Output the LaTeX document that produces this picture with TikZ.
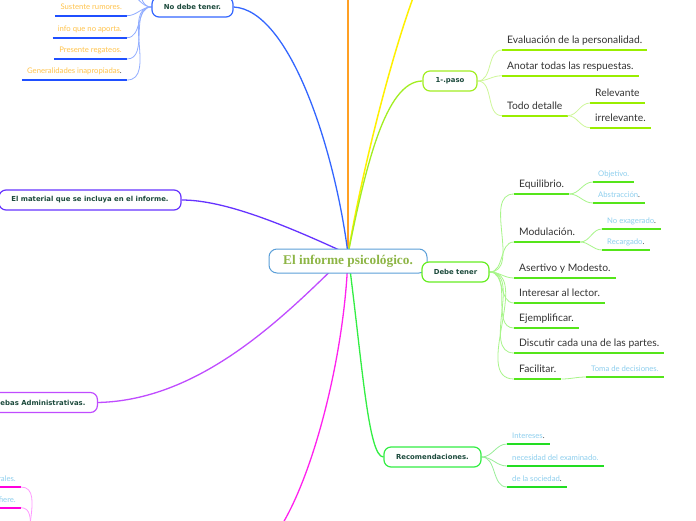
\documentclass[tikz,border=0pt]{standalone}
\usepackage{fontspec}
\setmainfont{Lato}
\newfontfamily\brfont{DejaVu Sans}
\newfontfamily\cnfont{Liberation Serif}
\usetikzlibrary{backgrounds}
\definecolor{cborder}{HTML}{5B9FD8}
\definecolor{ctext}{HTML}{8DB545}
\definecolor{brtext}{HTML}{1C4A3C}
\definecolor{leafdark}{HTML}{333333}
\definecolor{leaflight}{HTML}{8ECFEE}
\definecolor{leafyellow}{HTML}{FFC44D}
\definecolor{bluec}{HTML}{3366FF}
\definecolor{bluelc}{HTML}{92AEFF}
\definecolor{blueul}{HTML}{1F4FFF}
\definecolor{orangec}{HTML}{FFA024}
\definecolor{yellowc}{HTML}{FFF000}
\definecolor{chartc}{HTML}{A2EE22}
\definecolor{chartlc}{HTML}{CFF79A}
\definecolor{chartul}{HTML}{99EE00}
\definecolor{greenA}{HTML}{66EE22}
\definecolor{greenAlc}{HTML}{A8F58A}
\definecolor{greenAul}{HTML}{55E51A}
\definecolor{greenB}{HTML}{33EE44}
\definecolor{greenBlc}{HTML}{99EE99}
\definecolor{greenBul}{HTML}{22DD22}
\definecolor{purpleA}{HTML}{6633FF}
\definecolor{violetc}{HTML}{C04CFF}
\definecolor{magentac}{HTML}{FF22EE}
\definecolor{magentalc}{HTML}{FF99FF}
\definecolor{magentaul}{HTML}{FF00DD}
\newcommand{\dk}[1]{\textcolor{leafdark}{#1}}
\tikzset{
  every node/.style={inner sep=0pt},
  brnode/.style={draw=#1, line width=1.2pt, fill=white, rounded corners=7pt,
    minimum height=20pt, font=\brfont\bfseries\fontsize{6.9}{8}\selectfont, text=brtext},
  dleaf/.style={anchor=south west, inner xsep=5pt, inner ysep=0pt, text depth=6pt,
    font=\fontsize{10.3}{12}\selectfont, text=leafdark},
  lleaf/.style={anchor=south west, inner xsep=5pt, inner ysep=0pt, text depth=5pt,
    font=\fontsize{7.7}{9}\selectfont, text=leaflight},
  yleaf/.style={anchor=south east, inner xsep=5pt, inner ysep=0pt, text depth=6pt,
    font=\fontsize{7.7}{9}\selectfont, text=leafyellow},
  uline/.style={draw=#1, line width=1.6pt},
  leafconn/.style={draw=#1, line width=0.8pt},
  mainline/.style={draw=#1, line width=1.3pt},
}
\begin{document}
\begin{tikzpicture}[x=1pt, y=-1pt]
\useasboundingbox (0,0) rectangle (696,520);
% centre
\node[draw=cborder, line width=1pt, fill=white, rounded corners=8pt, minimum width=158pt,
  minimum height=24pt, font=\cnfont\bfseries\fontsize{13.3}{15}\selectfont, text=ctext]
  (c) at (348,261) {El informe psicológico.};
\coordinate (hub) at (348,254);
\coordinate (orangeend) at (348,-20);
\coordinate (yellowend) at (420,-20);
\coordinate (mage) at (255,555);
\coordinate (magw) at (40,555);

% branch nodes
\node[brnode=bluec, minimum width=81pt] (ndt) at (192.5,7) {No debe tener.};
\node[brnode=chartc, minimum width=54pt] (paso) at (450,81) {1-.paso};
\node[brnode=greenA, minimum width=67pt] (dt) at (455.5,272) {Debe tener};
\node[brnode=greenB, minimum width=97pt] (rec) at (432.5,457) {Recomendaciones.};
\node[brnode=purpleA, minimum width=182pt] (mat) at (90,200) {El material que se incluya en el informe.};
\node[brnode=violetc, anchor=east, inner xsep=12pt] (pru) at (98,402.5) {Pruebas Administrativas.};

% No debe tener leaves
\coordinate (s0a) at (127,-6);
\coordinate (s0b) at (127,-28);
\node[yleaf] (s1) at (127,15.7) {Sustente rumores.};
\node[yleaf] (s2) at (127,37.7) {info que no aporta.};
\node[yleaf] (s3) at (127,59) {Presente regateos.};
\node[yleaf] (s4) at (127,80) {Generalidades inapropiadas\dk{.}};

% 1-.paso leaves
\node[dleaf] (ev) at (502,50) {Evaluación de la personalidad.};
\node[dleaf] (an) at (502,75.7) {Anotar todas las respuestas.};
\node[dleaf] (td) at (502,115.7) {Todo detalle};
\node[dleaf] (rel) at (590,103) {Relevante};
\node[dleaf] (irr) at (590,127.7) {irrelevante.};

% Debe tener leaves
\node[dleaf] (eq) at (514,194) {Equilibrio.};
\node[dleaf] (mo) at (514,242) {Modulación.};
\node[dleaf] (as) at (514,278) {Asertivo y Modesto.};
\node[dleaf] (in) at (514,303) {Interesar al lector.};
\node[dleaf] (ej) at (514,328) {Ejemplificar.};
\node[dleaf] (di) at (514,353) {Discutir cada una de las partes.};
\node[dleaf] (fa) at (514,379) {Facilitar.};
\node[lleaf] (ob) at (593,182) {Objetivo.};
\node[lleaf] (ab) at (593,203) {Abstracción\dk{.}};
\node[lleaf] (ne) at (602,229) {No exagerado\dk{.}};
\node[lleaf] (re) at (602,250) {Recargado\dk{.}};
\node[lleaf] (to) at (586,377) {Toma de decisiones.};

% Recomendaciones leaves
\node[lleaf] (int) at (507,444) {Intereses\dk{.}};
\node[lleaf] (nec) at (507,466) {necesidad del examinado.};
\node[lleaf] (soc) at (507,487) {de la sociedad\dk{.}};

% magenta leaves (partly off the page)
\node[lleaf, anchor=south east, text width=30pt, align=right] (r1) at (21,487) {rales.};
\node[lleaf, anchor=south east, text width=30pt, align=right] (r2) at (21,507.7) {fiere.};

\begin{scope}[on background layer]
\fill[white] (0,0) rectangle (696,520);
% main branches
\draw[mainline=orangec, line width=1.8pt] (hub) -- (orangeend);
\draw[mainline=yellowc, line width=1.5pt] (hub) .. controls (362,170) and (395,40) .. (yellowend);
\draw[mainline=bluec] (ndt.east) .. controls (290,10) and (335,150) .. (hub);
\draw[mainline=chartc] (hub) .. controls (365,170) and (385,81) .. (paso.west);
\draw[mainline=greenA] (hub) .. controls (380,254) and (395,272) .. (dt.west);
\draw[mainline=greenB] (hub) .. controls (362,360) and (368,457) .. (rec.west);
\draw[mainline=purpleA] (mat.east) .. controls (225,200) and (285,225) .. (hub);
\draw[mainline=violetc] (pru.east) .. controls (205,400) and (290,310) .. (hub);
\draw[mainline=magentac] (hub) .. controls (345,370) and (300,530) .. (mage);

% blue leaves
\foreach \n in {s1,s2,s3,s4}{
  \draw[uline=blueul] (\n.south west) -- (\n.south east);
  \draw[leafconn=bluelc] (\n.south east) to[out=0,in=180] (ndt.west);
}
\foreach \n in {s0a,s0b}{
  \draw[leafconn=bluelc] (\n) to[out=0,in=180] (ndt.west);
}
% 1-.paso leaves
\foreach \n in {ev,an,td}{
  \draw[uline=chartul] (\n.south west) -- (\n.south east);
  \draw[leafconn=chartlc] (paso.east) to[out=0,in=180] (\n.south west);
}
\foreach \n in {rel,irr}{
  \draw[uline=chartul] (\n.south west) -- (\n.south east);
  \draw[leafconn=chartlc] (td.south east) to[out=0,in=180] (\n.south west);
}
% Debe tener leaves
\foreach \n in {eq,mo,as,in,ej,di,fa}{
  \draw[uline=greenAul] (\n.south west) -- (\n.south east);
  \draw[leafconn=greenAlc] (dt.east) to[out=0,in=180] (\n.south west);
}
\foreach \p/\n in {eq/ob,eq/ab,mo/ne,mo/re,fa/to}{
  \draw[uline=greenAul] (\n.south west) -- (\n.south east);
  \draw[leafconn=greenAlc] (\p.south east) to[out=0,in=180] (\n.south west);
}
% Recomendaciones leaves
\foreach \n in {int,nec,soc}{
  \draw[uline=greenBul] (\n.south west) -- (\n.south east);
  \draw[leafconn=greenBlc] (rec.east) to[out=0,in=180] (\n.south west);
}
% magenta leaves
\foreach \n in {r1,r2}{
  \draw[uline=magentaul] (\n.south west) -- (\n.south east);
  \draw[leafconn=magentalc] (\n.south east) to[out=0,in=180] (magw);
}
\end{scope}
\end{tikzpicture}
\end{document}
